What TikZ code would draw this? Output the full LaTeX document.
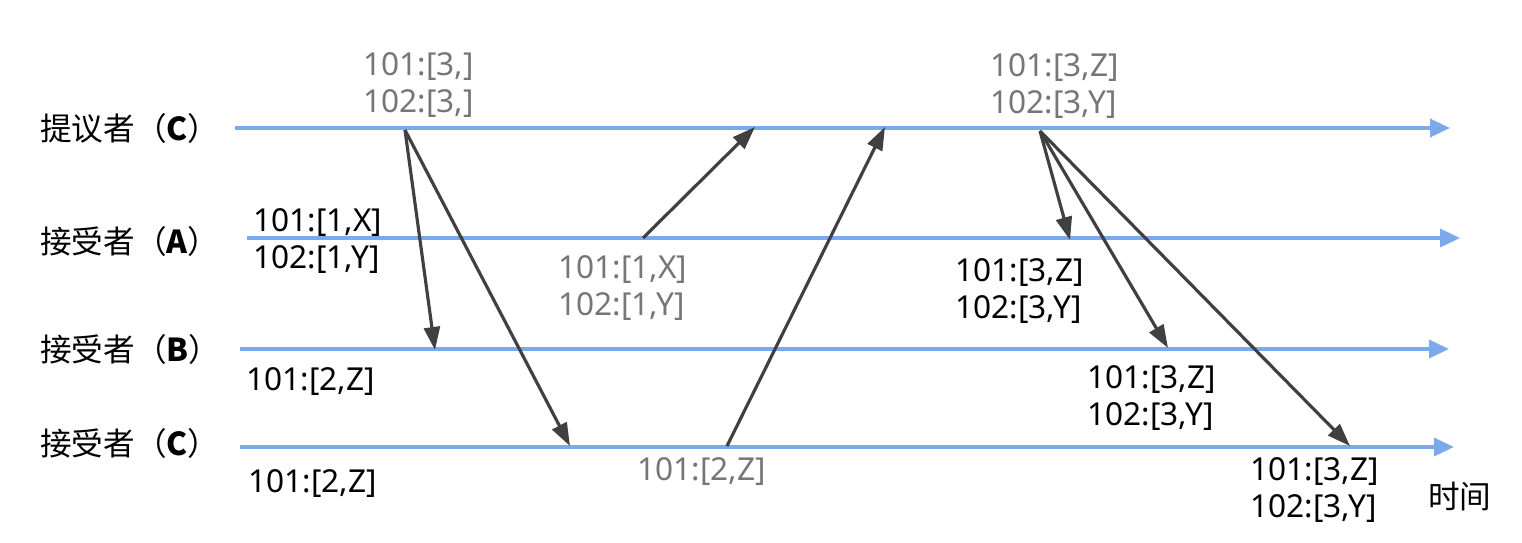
\documentclass[tikz,border=0pt]{standalone}
\usepackage{fontspec}
\setmainfont{Noto Sans}
\newfontfamily\cjk{Noto Sans CJK SC}
\usetikzlibrary{arrows.meta}
\definecolor{lineblue}{RGB}{122,170,235}
\definecolor{msgdark}{RGB}{64,64,64}
\definecolor{oldgray}{RGB}{118,118,118}
\tikzset{
  timeline/.style={lineblue, line width=2pt, -{Triangle[length=0.4cm, width=0.36cm]}},
  msg/.style={msgdark, line width=1.8pt, -{Triangle[length=0.46cm, width=0.32cm]}},
  who/.style={anchor=west, inner sep=0pt, font=\cjk\fontsize{18}{21}\selectfont},
  val/.style={anchor=west, inner sep=0pt, align=left, font=\fontsize{18}{21}\selectfont},
  oldval/.style={val, text=oldgray}
}
\begin{document}
\begin{tikzpicture}[x=0.02cm, y=-0.02cm]
      \useasboundingbox (0,0) rectangle (1522,542);
      % roles
      \draw
        (40,128) node[who] (pc){提议者（\textbf{C}）}
        (40,241) node[who] (aa){接受者（\textbf{A}）}
        (40,349) node[who] (ab){接受者（\textbf{B}）}
        (40,443) node[who] (ac){接受者（\textbf{C}）};
      % time lines
      \coordinate (pcs) at (235,128);
      \coordinate (pce) at (1450,128);
      \coordinate (aas) at (247,238);
      \coordinate (aae) at (1460,238);
      \coordinate (abs) at (240,349);
      \coordinate (abe) at (1449,349);
      \coordinate (acs) at (240,447);
      \coordinate (ace) at (1454,447);
      \begin{scope}
        \draw[timeline] (pcs) to (pce);
        \draw[timeline] (aas) to (aae);
        \draw[timeline] (abs) to (abe);
        \draw[timeline] (acs) to (ace);
      \end{scope}
      % values
      \draw
        (363,85) node[oldval] (v1){101:[3,]\\102:[3,]}
        (253,241) node[val] (v2){101:[1,X]\\102:[1,Y]}
        (558,288) node[oldval] (v3){101:[1,X]\\102:[1,Y]}
        (246,382) node[val] (v4){101:[2,Z]}
        (248,484) node[val] (v5){101:[2,Z]}
        (637,472) node[oldval] (v6){101:[2,Z]}
        (990,86) node[oldval] (v7){101:[3,Z]\\102:[3,Y]}
        (955,291) node[val] (v8){101:[3,Z]\\102:[3,Y]}
        (1087,398) node[val] (v9){101:[3,Z]\\102:[3,Y]}
        (1250,490) node[val] (v10){101:[3,Z]\\102:[3,Y]}
        (1428,497) node[who] (time){时间};
      % messages
      \coordinate (m1) at (405,130);
      \coordinate (m2) at (435,350);
      \coordinate (m3) at (570,446);
      \coordinate (m4) at (643,238);
      \coordinate (m5) at (755,127);
      \coordinate (m6) at (727,446);
      \coordinate (m7) at (885,127);
      \coordinate (m8) at (1040,131);
      \coordinate (m9) at (1070,240);
      \coordinate (m10) at (1168,348);
      \coordinate (m11) at (1350,446);
      \begin{scope}[msg]
        \draw (m1) to (m2);
        \draw (m1) to (m3);
        \draw (m4) to (m5);
        \draw (m6) to (m7);
        \draw (m8) to (m9);
        \draw (m8) to (m10);
        \draw (m8) to (m11);
      \end{scope}
    \end{tikzpicture}
\end{document}
